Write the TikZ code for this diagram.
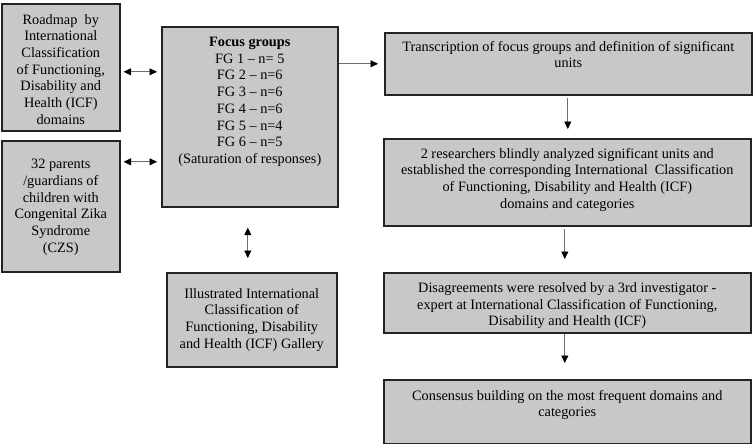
\documentclass[tikz,border=0pt]{standalone}
\usepackage{fontspec}
\setmainfont{Liberation Serif}
\usetikzlibrary{arrows.meta}
\definecolor{boxfill}{RGB}{200,200,200}
\definecolor{boxline}{RGB}{35,35,35}
\definecolor{arrline}{RGB}{110,110,110}
\begin{document}
\begin{tikzpicture}[x=1pt,y=-1pt,
  box/.style={draw=boxline,fill=boxfill,line width=1.6pt,rectangle,inner sep=0pt,anchor=north west},
  txt/.style={align=center,inner sep=0pt,font=\fontsize{14.3pt}{16.7pt}\selectfont},
  arr/.style={draw=arrline,line width=0.7pt,-{Triangle[length=7.5pt,width=7pt,color=black]}},
  darr/.style={draw=arrline,line width=0.7pt,{Triangle[length=7.5pt,width=7pt,color=black]}-{Triangle[length=7.5pt,width=7pt,color=black]}}]
\useasboundingbox (0,0) rectangle (755,444);
% left column
\node[box,minimum width=118pt,minimum height=127pt] (a) at (1,3) {};
\node[txt] (at) at ([yshift=-2pt]a.center) {Roadmap~ by\\International\\Classification\\of Functioning,\\Disability and\\Health (ICF)\\domains};
\node[box,minimum width=118pt,minimum height=131pt] (b) at (1,140) {};
\node[txt] (bt) at ([yshift=-1pt]b.center) {32 parents\\/guardians of\\children with\\Congenital Zika\\Syndrome\\(CZS)};
% middle
\node[box,minimum width=176pt,minimum height=180pt] (fg) at (161,26) {};
\node[txt,anchor=north] (fgt) at ([yshift=-11pt]fg.north) {\textbf{Focus groups}\\FG 1 -- n= 5\\FG 2 -- n=6\\FG 3 -- n=6\\FG 4 -- n=6\\FG 5 -- n=4\\FG 6 -- n=5\\(Saturation of responses)};
\node[box,minimum width=170pt,minimum height=94pt] (gal) at (166,272) {};
\node[txt] (galt) at (gal.center) {Illustrated International\\Classification of\\Functioning, Disability\\and Health (ICF) Gallery};
% right column
\node[box,minimum width=367pt,minimum height=62pt] (tr) at (384,32) {};
\node[txt,anchor=north] (trt) at ([yshift=-9pt]tr.north) {Transcription of focus groups and definition of significant\\units};
\node[box,minimum width=367pt,minimum height=87pt] (r2) at (383,138) {};
\node[txt] (r2t) at ([yshift=2.5pt]r2.center) {2 researchers blindly analyzed significant units and\\established the corresponding International~ Classification\\of Functioning, Disability and Health (ICF)\\domains and categories};
\node[box,minimum width=367pt,minimum height=60pt] (dis) at (383,272) {};
\node[txt] (dist) at ([yshift=-3pt]dis.center) {Disagreements were resolved by a 3rd investigator -\\expert at International Classification of Functioning,\\Disability and Health (ICF)};
\node[box,minimum width=367pt,minimum height=64pt] (con) at (383,379) {};
\node[txt,anchor=north] (cont) at ([yshift=-11pt]con.north) {Consensus building on the most frequent domains and\\categories};
% connectors
\draw[darr,shorten <=3pt,shorten >=4pt] ([yshift=-4.5pt]a.east) -- ([yshift=-4.5pt]a.east -| fg.west);
\draw[darr,shorten <=3pt,shorten >=4pt] ([yshift=44.5pt]b.east) -- ([yshift=44.5pt]b.east -| fg.west);
\draw[arr,shorten >=6pt] (fg.east |- tr.west) -- (tr.west);
\draw[darr,shorten <=20pt,shorten >=14pt] ([xshift=-2pt]fg.south) -- ([xshift=-2pt]fg.south |- gal.north);
\draw[arr,shorten <=2pt,shorten >=9pt] ([xshift=-0.5pt]tr.south) -- ([xshift=-0.5pt]tr.south |- r2.north);
\draw[arr,shorten <=2pt,shorten >=13pt] ([xshift=-2.5pt]r2.south) -- ([xshift=-2.5pt]r2.south |- dis.north);
\draw[arr,shorten >=16pt] ([xshift=-2.5pt]dis.south) -- ([xshift=-2.5pt]dis.south |- con.north);
\end{tikzpicture}
\end{document}
